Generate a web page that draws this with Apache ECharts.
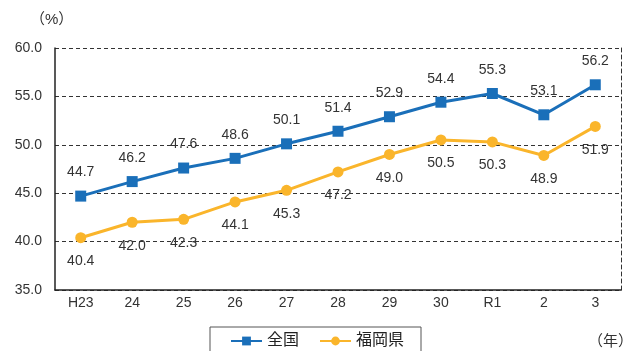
<!DOCTYPE html>
<html><head><meta charset="utf-8">
<script src="https://cdn.jsdelivr.net/npm/echarts@6/dist/echarts.min.js"></script>
<style>html,body{margin:0;padding:0;background:#fff}#c{width:624px;height:351px}</style>
</head><body><div id="c"></div>
<script>
const categories = ['H23','24','25','26','27','28','29','30','R1','2','3'];
const national = [44.7,46.2,47.6,48.6,50.1,51.4,52.9,54.4,55.3,53.1,56.2];
const fukuoka = [40.4,42.0,42.3,44.1,45.3,47.2,49.0,50.5,50.3,48.9,51.9];
const yTicks = [35,40,45,50,55,60];
const seriesNames = ['全国','福岡県'];

const font = '"Liberation Sans","Noto Sans CJK JP",sans-serif';
const chart = echarts.init(document.getElementById('c'));
chart.setOption({
  animation:false,
  textStyle:{fontFamily:font},
  grid:{left:55,right:3,top:48,height:242,containLabel:false},
  xAxis:{type:'category',data:categories,boundaryGap:true,
    axisLine:{lineStyle:{color:'#222',width:1.5}},axisTick:{show:false},
    axisLabel:{color:'#333',fontSize:14,margin:6,fontFamily:font}},
  yAxis:[{type:'value',min:yTicks[0],max:yTicks[yTicks.length-1],interval:5,
    axisLine:{show:true,lineStyle:{color:'#222',width:1.5}},axisTick:{show:false},
    axisLabel:{color:'#333',fontSize:14,margin:13,formatter:v=>v.toFixed(1),fontFamily:font},
    splitLine:{lineStyle:{color:'#333',type:[4,3],width:1}}},
    {type:'value',position:'right',min:35,max:60,interval:5,axisLabel:{show:false},
    axisLine:{show:true,lineStyle:{color:'#333',type:[4,3],width:1}},axisTick:{show:false},splitLine:{show:false}}],
  legend:{left:210,top:327,itemGap:20,itemWidth:31,itemHeight:11,
    borderColor:'#555',borderWidth:1,padding:[6,17,12,20],
    textStyle:{fontSize:16,color:'#222',fontFamily:font},data:seriesNames},
  graphic:[
    {type:'text',left:30,top:12,style:{text:'（%）',fill:'#333',font:'15px '+font}},
    {type:'text',left:588,top:334,style:{text:'（年）',fill:'#333',font:'15px '+font}}
  ],
  series:[
    {name:seriesNames[0],type:'line',data:national,color:'#1a6fb9',symbol:'rect',symbolSize:11,
     lineStyle:{width:3},label:{show:true,position:'top',distance:11,fontSize:14,color:'#333',formatter:p=>p.value.toFixed(1)}},
    {name:seriesNames[1],type:'line',data:fukuoka,color:'#fab52b',symbol:'circle',symbolSize:11,
     lineStyle:{width:3},label:{show:true,position:'bottom',distance:11,fontSize:14,color:'#333',formatter:p=>p.value.toFixed(1)}}
  ]
});
</script></body></html>
